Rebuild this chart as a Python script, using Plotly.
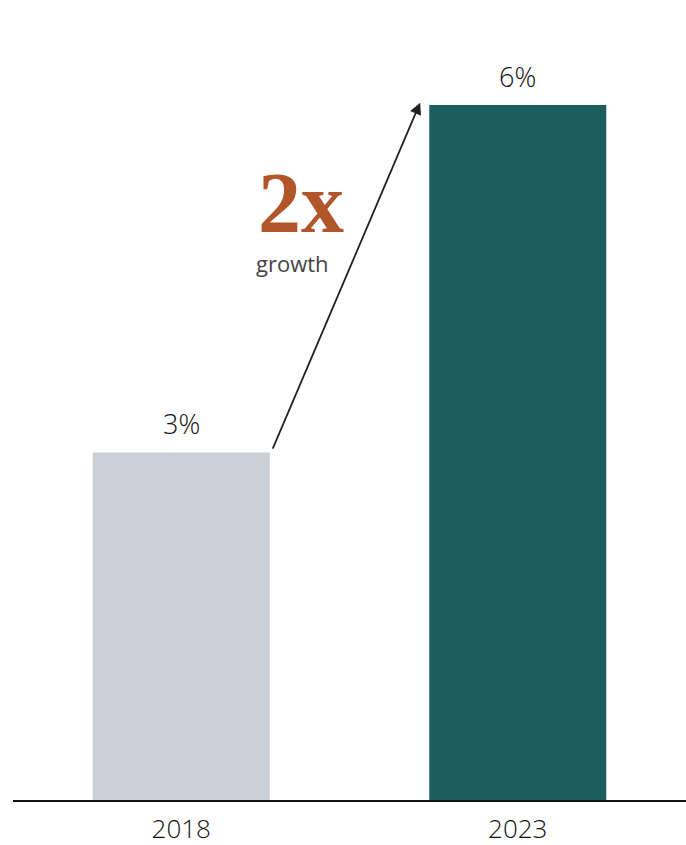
import plotly.graph_objects as go

years = ["2018", "2023"]
shares = [3, 6]
labels = ["3%", "6%"]
bar_colors = ["#CBCFD8", "#1B5E5C"]

FONT = "Open Sans"
TXT = "#111111"

fig = go.Figure(go.Bar(
    x=years, y=shares,
    marker=dict(color=bar_colors, line=dict(width=0)),
    cliponaxis=False, hoverinfo="skip",
))

# value labels above the bars (category index positions)
for i, (v, lab) in enumerate(zip(shares, labels)):
    fig.add_annotation(x=i, y=v, text=lab, showarrow=False, yanchor="bottom", yshift=8,
                       font=dict(family=FONT, size=27, color=TXT, weight=300))

fig.update_layout(
    width=686, height=845,
    margin=dict(l=13, r=0, t=35, b=45, autoexpand=False),
    paper_bgcolor="white", plot_bgcolor="white",
    bargap=0.474, showlegend=False,
    xaxis=dict(type="category", showgrid=False, zeroline=False, showline=True,
               linecolor="#111", linewidth=2, ticks="", ticklabelstandoff=5,
               tickfont=dict(family=FONT, size=26, color=TXT, weight=300),
               range=[-0.5, 1.5]),
    yaxis=dict(visible=False, range=[0, 6.604]),
)

# growth arrow from the 2018 bar to the 2023 bar
fig.add_annotation(x=0.71, y=6.02, ax=0.27, ay=3.02, xref="x", yref="y", axref="x", ayref="y",
                   showarrow=True, arrowhead=2, arrowsize=1.3, arrowwidth=1.8, arrowcolor="#222",
                   text="")
fig.add_annotation(text="<b>2x</b>", showarrow=False, xanchor="left", yanchor="bottom",
                   x=(256 - 181) / 336.5, y=(800 - 235) / 115.83, xref="x", yref="y", yshift=-18,
                   font=dict(family="Liberation Serif", size=86, color="#B0562A"))
fig.add_annotation(text="growth", showarrow=False, xanchor="left", yanchor="middle",
                   x=(254 - 181) / 336.5, y=(800 - 263) / 115.83, xref="x", yref="y",
                   font=dict(family=FONT, size=22, color="#444", weight=400))

fig.write_html("out.html", config={"displayModeBar": False},
               post_script="document.body.style.margin='0';document.body.style.overflow='hidden';")
